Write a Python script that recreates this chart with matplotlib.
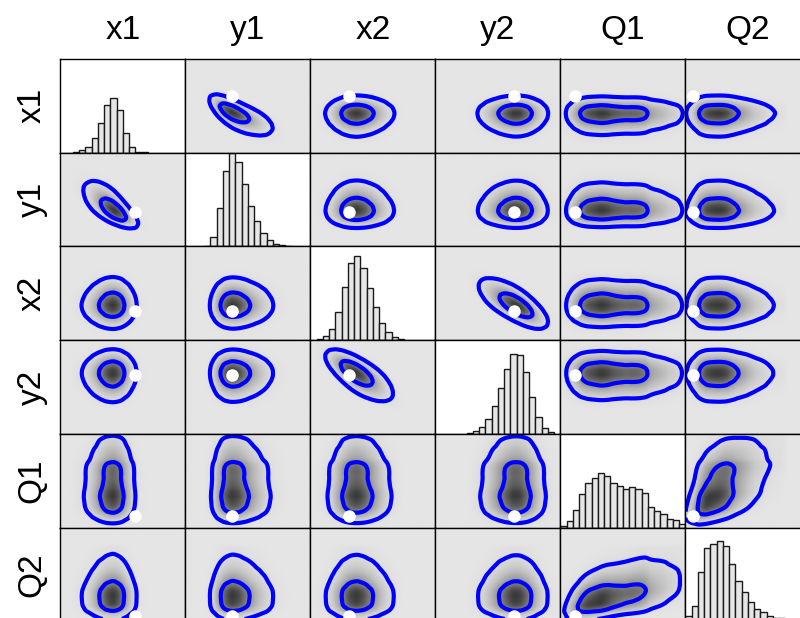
import math
import numpy as np
import matplotlib
matplotlib.use("Agg")
import matplotlib.pyplot as plt
from matplotlib.colors import LinearSegmentedColormap

plt.rcParams['font.family'] = ['Liberation Sans', 'DejaVu Sans']

# parameters, all shown on a common 0..1 scale
names = ["x1", "y1", "x2", "y2", "Q1", "Q2"]
truth = [0.60, 0.37, 0.31, 0.63, 0.12, 0.06]

# marginal posterior histograms (bin width 0.05, first edge per parameter)
bin_width = 0.05
hist_start = [0.10, 0.15, 0.05, 0.25, 0.00, 0.00]
hist_x1 = [11, 25, 65, 162, 321, 509, 588, 455, 213, 61, 11, 4]
hist_y1 = [7, 97, 408, 805, 993, 899, 664, 430, 267, 148, 69, 29, 14, 4]
hist_x2 = [11, 40, 116, 296, 570, 819, 895, 773, 556, 350, 181, 83, 36, 7]
hist_y2 = [4, 29, 72, 158, 297, 487, 695, 853, 842, 656, 394, 179, 65, 18]
hist_Q1 = [14, 71, 185, 359, 477, 523, 577, 548, 477, 441, 416, 427, 416,
           363, 224, 178, 139, 96, 75, 39]
hist_Q2 = [57, 164, 529, 779, 825, 854, 800, 607, 425, 311, 207, 132, 93,
           54, 36, 32]
hists = [hist_x1, hist_y1, hist_x2, hist_y2, hist_Q1, hist_Q2]

# rank correlation between parameters (used as a gaussian copula)
corr = np.array([
    [1.0, -0.7, 0.0, 0.0, 0.0, 0.0],
    [-0.7, 1.0, 0.0, 0.0, 0.0, 0.0],
    [0.0, 0.0, 1.0, -0.7, 0.0, 0.0],
    [0.0, 0.0, -0.7, 1.0, 0.0, 0.0],
    [0.0, 0.0, 0.0, 0.0, 1.0, 0.45],
    [0.0, 0.0, 0.0, 0.0, 0.45, 1.0],
])
hpd_probs = [0.95, 0.5]

# grid and standard normal table
n = 240
g = (np.arange(n) + 0.5) / n
dx = 1.0 / n
zz = np.linspace(-8, 8, 4001)
Phi = 0.5 * (1 + np.array([math.erf(v / math.sqrt(2)) for v in zz]))


def marginal(counts, start):
    edges = start + bin_width * np.arange(len(counts) + 1)
    idx = np.searchsorted(edges, g, side='right') - 1
    ok = (idx >= 0) & (idx < len(counts))
    f = np.where(ok, np.take(counts, np.clip(idx, 0, len(counts) - 1)), 0.0).astype(float)
    k = np.arange(-40, 41) * dx
    kern = np.exp(-0.5 * (k / 0.02) ** 2)
    f = np.convolve(f, kern / kern.sum(), mode='same') + 1e-12
    f = f / (f.sum() * dx)
    cdf = np.cumsum(f) * dx - 0.5 * f * dx
    z = np.interp(np.clip(cdf, 1e-6, 1 - 1e-6), Phi, zz)
    return f, z


marg = [marginal(h, s) for h, s in zip(hists, hist_start)]


def joint(i, j):
    r = corr[i, j]
    fi, a = marg[i]
    fj, b = marg[j]
    a = a[:, None]
    b = b[None, :]
    c = np.exp(-(r * r * (a * a + b * b) - 2 * r * a * b) / (2 * (1 - r * r))) / np.sqrt(1 - r * r)
    return fi[:, None] * fj[None, :] * c


def hpd_levels(d, probs):
    s = np.sort(d.ravel())[::-1]
    cm = np.cumsum(s) / s.sum()
    return [s[np.searchsorted(cm, p)] for p in probs]


cmap = LinearSegmentedColormap.from_list('dens', ['#e5e5e5', '#3a3a3a'])

W, H = 800, 618
fig = plt.figure(figsize=(W / 100, H / 100), dpi=100)
x0, y0, cw, rh = 60.3, 59.0, 125.0, 93.7

for r in range(6):
    for c in range(6):
        ax = fig.add_axes([(x0 + cw * c) / W, 1 - (y0 + rh * (r + 1)) / H, cw / W, rh / H])
        if r == c:
            edges = hist_start[r] + bin_width * np.arange(len(hists[r]))
            ax.bar(edges, hists[r], width=bin_width, align='edge', color='#e6e6e6',
                   edgecolor='#1a1a1a', linewidth=1.0)
            ax.set_ylim(0, 1000)
        else:
            d = joint(r, c)
            ax.imshow(d, origin='lower', extent=(0, 1, 0, 1), cmap=cmap, aspect='auto',
                      interpolation='bilinear', vmin=0, vmax=d.max())
            ax.contour(g, g, d, levels=hpd_levels(d, hpd_probs), colors='#0000ff',
                       linewidths=3.0)
            ax.plot(truth[c], truth[r], 'o', color='white', ms=9, mec='none', zorder=5)
            ax.set_ylim(0, 1)
        ax.set_xlim(0, 1)
        ax.set_xticks([])
        ax.set_yticks([])
        for sp in ax.spines.values():
            sp.set_linewidth(1.0)

for k, name in enumerate(names):
    fig.text((x0 + cw * (k + 0.5)) / W, 1 - 39 / H, name, fontsize=24,
             ha='center', va='baseline')
    fig.text(32 / W, 1 - (y0 + rh * (k + 0.5)) / H, name, fontsize=24,
             ha='center', va='center', rotation=90)

fig.savefig('out.png', dpi=100)
